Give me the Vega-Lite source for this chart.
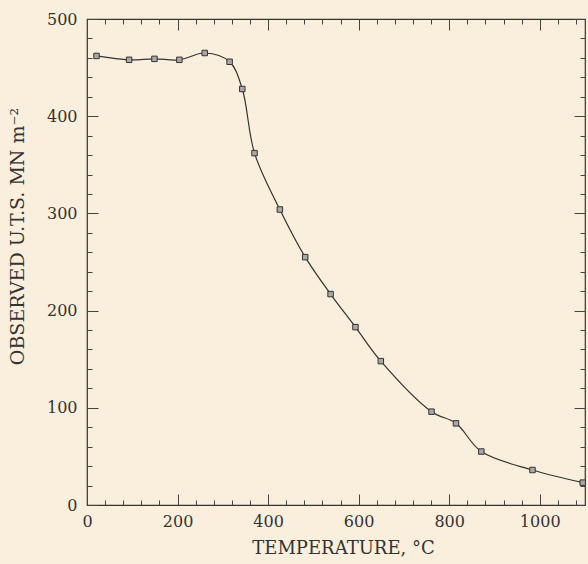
{
  "$schema": "https://vega.github.io/schema/vega-lite/v6.json",
  "width": 498,
  "height": 486,
  "autosize": "none",
  "padding": {"left": 87, "top": 19, "right": 3, "bottom": 59},
  "background": "#faefdc",
  "config": {
    "view": {"stroke": "#333333", "strokeWidth": 1.2},
    "axis": {
      "domain": false,
      "grid": false,
      "labelFont": "DejaVu Serif",
      "titleFont": "DejaVu Serif",
      "labelColor": "#333333",
      "titleColor": "#333333",
      "tickColor": "#444444",
      "tickWidth": 1,
      "labelFontSize": 16,
      "titleFontSize": 18,
      "titleFontWeight": "normal",
      "labelOverlap": false,
      "labelFlush": false,
      "labelBound": false
    }
  },
  "data": {
    "values": [
      {"t": 21, "uts": 462},
      {"t": 93, "uts": 458},
      {"t": 149, "uts": 459},
      {"t": 204, "uts": 458},
      {"t": 260, "uts": 465},
      {"t": 315, "uts": 456},
      {"t": 343, "uts": 428},
      {"t": 370, "uts": 362},
      {"t": 426, "uts": 304},
      {"t": 482, "uts": 255},
      {"t": 538, "uts": 217},
      {"t": 593, "uts": 183},
      {"t": 649, "uts": 148},
      {"t": 761, "uts": 96},
      {"t": 815, "uts": 84},
      {"t": 871, "uts": 55},
      {"t": 984, "uts": 36},
      {"t": 1095, "uts": 23}
    ]
  },
  "layer": [
    {
      "mark": {"type": "line", "interpolate": "catmull-rom", "color": "#333333", "strokeWidth": 1.2},
      "encoding": {
        "x": {
          "field": "t", "type": "quantitative",
          "scale": {"domain": [0, 1100], "nice": false, "zero": false},
          "axis": {
            "orient": "bottom",
            "offset": -11,
            "tickSize": 11,
            "values": [0, 200, 400, 600, 800, 1000],
            "format": "d",
            "labelPadding": 8,
            "title": "TEMPERATURE, °C",
            "titleX": 256,
            "titleY": 54,
            "titleAlign": "center",
            "titleBaseline": "middle"
          }
        },
        "y": {
          "field": "uts", "type": "quantitative",
          "scale": {"domain": [0, 500], "nice": false},
          "axis": {
            "orient": "left",
            "offset": -11,
            "tickSize": 11,
            "values": [0, 100, 200, 300, 400, 500],
            "format": "d",
            "labelPadding": 10,
            "title": "OBSERVED U.T.S. MN m⁻²",
            "titleFontSize": 19,
            "titleX": -81,
            "titleY": 217,
            "titleAngle": 270,
            "titleAlign": "center",
            "titleBaseline": "middle"
          }
        }
      }
    },
    {
      "mark": {"type": "point", "shape": "square", "size": 30, "filled": true, "fill": "#a8a8a8", "stroke": "#333333", "strokeWidth": 1, "opacity": 1},
      "encoding": {
        "x": {
          "field": "t", "type": "quantitative",
          "axis": {
            "orient": "bottom",
            "offset": -5,
            "tickSize": 5,
            "values": [40,80,120,160,240,280,320,360,440,480,520,560,640,680,720,760,840,880,920,960,1040,1080],
            "labels": false,
            "title": null
          }
        },
        "y": {
          "field": "uts", "type": "quantitative",
          "axis": {
            "orient": "left",
            "offset": -5,
            "tickSize": 5,
            "values": [20,40,60,80,120,140,160,180,220,240,260,280,320,340,360,380,420,440,460,480],
            "labels": false,
            "title": null
          }
        }
      }
    },
    {
      "mark": {"type": "point", "opacity": 0},
      "encoding": {
        "x": {
          "field": "t", "type": "quantitative",
          "axis": {
            "orient": "top",
            "offset": -11,
            "tickSize": 11,
            "values": [0, 200, 400, 600, 800, 1000],
            "labels": false,
            "title": null
          }
        },
        "y": {
          "field": "uts", "type": "quantitative",
          "axis": {
            "orient": "right",
            "offset": -11,
            "tickSize": 11,
            "values": [0, 100, 200, 300, 400, 500],
            "labels": false,
            "title": null
          }
        }
      }
    },
    {
      "mark": {"type": "point", "opacity": 0},
      "encoding": {
        "x": {
          "field": "t", "type": "quantitative",
          "axis": {
            "orient": "top",
            "offset": -5,
            "tickSize": 5,
            "values": [40,80,120,160,240,280,320,360,440,480,520,560,640,680,720,760,840,880,920,960,1040,1080],
            "labels": false,
            "title": null
          }
        },
        "y": {
          "field": "uts", "type": "quantitative",
          "axis": {
            "orient": "right",
            "offset": -5,
            "tickSize": 5,
            "values": [20,40,60,80,120,140,160,180,220,240,260,280,320,340,360,380,420,440,460,480],
            "labels": false,
            "title": null
          }
        }
      }
    }
  ],
  "resolve": {"axis": {"x": "independent", "y": "independent"}}
}
